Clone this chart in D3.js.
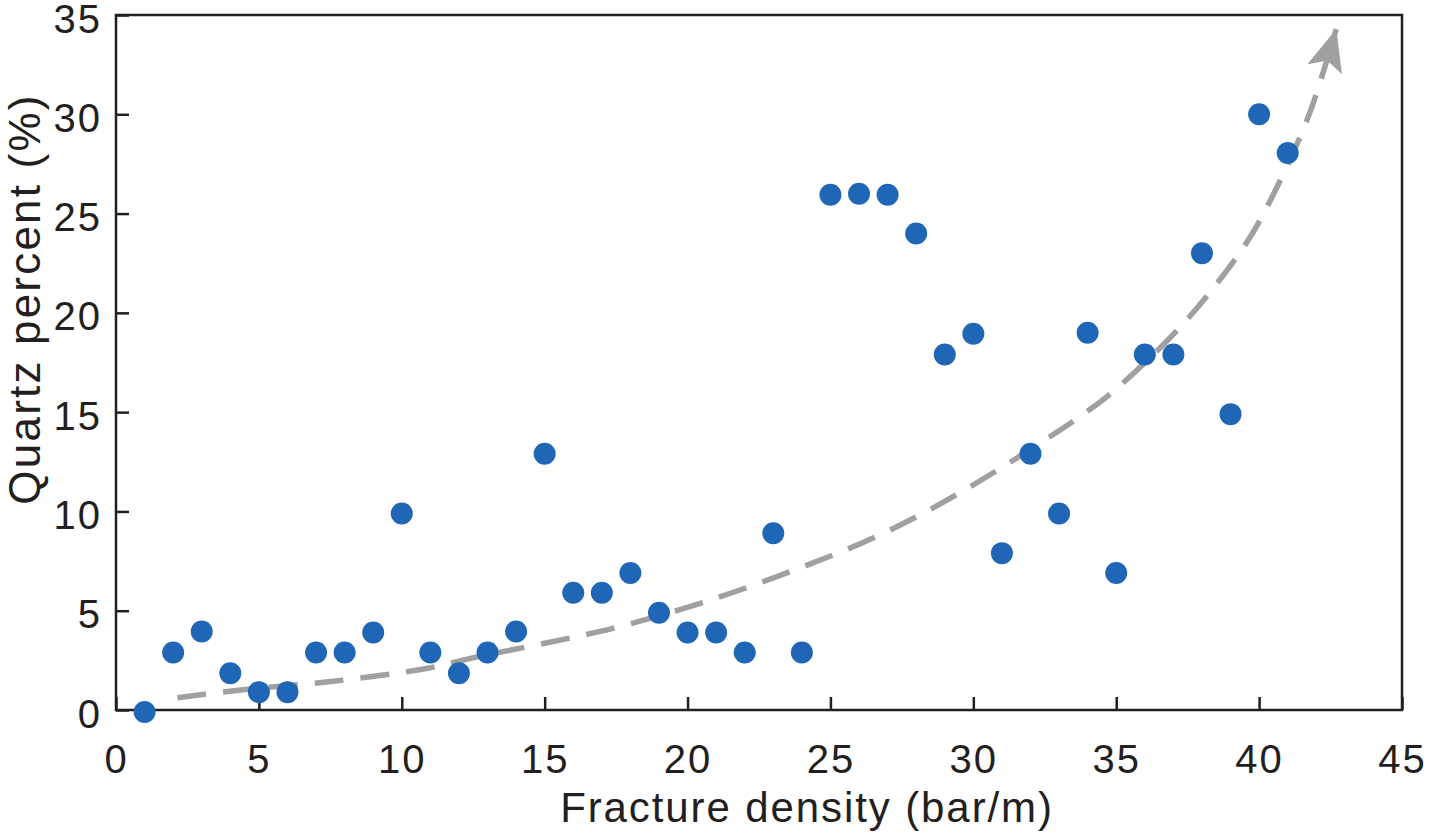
<!DOCTYPE html>
<html>
<head>
<meta charset="utf-8">
<script src="https://cdn.jsdelivr.net/npm/d3@7/dist/d3.min.js"></script>
<style>
  html, body { margin: 0; padding: 0; background: #fff; }
  svg { display: block; }
  text { font-family: "Liberation Sans", Arial, Helvetica, sans-serif; fill: #231f20; }
</style>
</head>
<body>
<svg id="chart" width="1429" height="839"></svg>
<script>
// Data
const fractureDensity = [1,2,3,4,5,6,7,8,9,10,11,12,13,14,15,16,17,18,19,20,21,22,23,24,25,26,27,28,29,30,31,32,33,34,35,36,37,38,39,40,41];
const quartzPercent = [-0.1,2.9,3.95,1.85,0.9,0.9,2.9,2.9,3.9,9.9,2.9,1.85,2.9,3.95,12.9,5.9,5.9,6.9,4.9,3.9,3.9,2.9,8.9,2.9,25.95,26,25.95,24,17.9,18.95,7.9,12.9,9.9,19,6.9,17.9,17.9,23,14.9,30,28.05];
// trend curve points
const trendX = [2.15, 4.3, 7.6, 10.9, 12.4, 17.35, 20.5, 23.65, 26.7, 29.6, 33.8, 35.1, 37.5, 39.5, 40.3, 41.7, 42.7];
const trendY = [0.62, 1.0, 1.45, 2.1, 2.6, 4.1, 5.4, 7.0, 8.8, 11.0, 14.85, 16.3, 19.7, 23.4, 25.4, 29.8, 34.3];
const xTicks = [0,5,10,15,20,25,30,35,40,45];
const yTicks = [0,5,10,15,20,25,30,35];

(function () {
const svg = d3.select("#chart");
const mLeft = 116, mRight = 1402, mTop = 15, mBottom = 710;
const x = d3.scaleLinear().domain([0,45]).range([mLeft, mRight]);
const y = d3.scaleLinear().domain([0,35]).range([mBottom, mTop]);
const ink = "#231f20";

// ticks (inward)
const gx = svg.append("g").attr("transform", `translate(0,${mBottom})`)
  .call(d3.axisBottom(x).tickValues(xTicks).tickSizeInner(-13).tickSizeOuter(0).tickPadding(0).tickFormat(d3.format("d")));
gx.select(".domain").remove();
gx.selectAll(".tick line").attr("stroke", ink).attr("stroke-width", 2.5);
gx.selectAll(".tick text").attr("font-size", 40).attr("y", 63).attr("dy", 0).attr("letter-spacing", 2).attr("fill", ink);

const gy = svg.append("g").attr("transform", `translate(${mLeft},0)`)
  .call(d3.axisLeft(y).tickValues(yTicks).tickSizeInner(-13).tickSizeOuter(0).tickPadding(0).tickFormat(d3.format("d")));
gy.select(".domain").remove();
gy.selectAll(".tick line").attr("stroke", ink).attr("stroke-width", 2.5);
gy.selectAll(".tick text").attr("font-size", 40).attr("x", -14).attr("dy", 17).attr("letter-spacing", 2).attr("fill", ink);

// frame
svg.append("rect").attr("x", mLeft).attr("y", mTop).attr("width", mRight-mLeft).attr("height", mBottom-mTop)
  .attr("fill", "none").attr("stroke", ink).attr("stroke-width", 2.5);

// arrow marker
const defs = svg.append("defs");
defs.append("marker").attr("id", "arrow")
  .attr("markerUnits", "userSpaceOnUse")
  .attr("viewBox", "0 0 42 36").attr("refX", 42).attr("refY", 18)
  .attr("markerWidth", 42).attr("markerHeight", 36).attr("orient", "auto")
  .append("path").attr("d", "M0,0 L42,18 L0,36 L9,18 Z").attr("fill", "#a0a0a0");

// trend line
const trend = trendX.map((d,i) => [d, trendY[i]]);
svg.append("path").datum(trend)
  .attr("d", d3.line().x(d => x(d[0])).y(d => y(d[1])).curve(d3.curveCatmullRom.alpha(0.5)))
  .attr("fill", "none").attr("stroke", "#a0a0a0").attr("stroke-width", 5.5)
  .attr("stroke-dasharray", "29,17").attr("marker-end", "url(#arrow)");

// points
svg.append("g").selectAll("circle").data(fractureDensity).join("circle")
  .attr("cx", d => x(d)).attr("cy", (d,i) => y(quartzPercent[i])).attr("r", 11)
  .attr("fill", "#1f67b6");

// axis labels
svg.append("text").attr("x", 807).attr("y", 822).attr("text-anchor", "middle")
  .attr("font-size", 42).attr("letter-spacing", 1.9).text("Fracture density (bar/m)");
svg.append("text").attr("transform", `translate(40,${299}) rotate(-90)`).attr("text-anchor", "middle")
  .attr("font-size", 44).attr("letter-spacing", 2.2).text("Quartz percent (%)");
})();
</script>
</body>
</html>
